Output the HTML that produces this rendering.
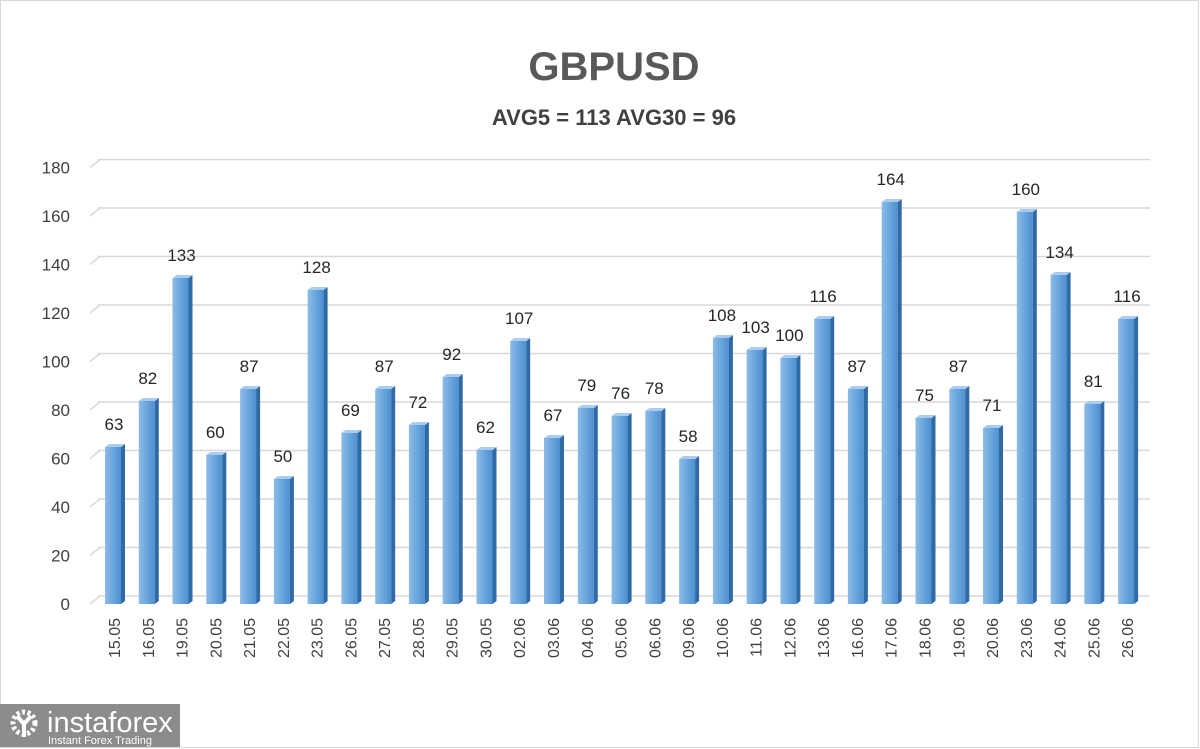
<!DOCTYPE html><html><head><style>body{margin:0;background:#fff}svg{display:block}
.b rect.f{fill:url(#g)}.b .s{fill:#2f6aa6}.b .t{fill:#a9cdf0}.b text{font-size:17px;fill:#262626;text-anchor:middle}
.d{font-size:16px;fill:#404040;text-anchor:end}.yl{font-size:17px;fill:#404040;text-anchor:end}
</style></head><body>
<svg width="1200" height="749" xmlns="http://www.w3.org/2000/svg" font-family="Liberation Sans, sans-serif">
<defs><linearGradient id="g" x1="0" x2="1"><stop offset="0" stop-color="#8cbbe6"/><stop offset="0.5" stop-color="#6aa6de"/><stop offset="1" stop-color="#4f8fcf"/></linearGradient></defs>
<rect x="0.5" y="0.5" width="1198" height="747" fill="#fff" stroke="#d8d8d8"/>
<text x="614" y="80" text-anchor="middle" font-size="40" font-weight="bold" fill="#595959">GBPUSD</text>
<text x="614" y="125" text-anchor="middle" font-size="22" font-weight="bold" fill="#404040">AVG5 = 113 AVG30 = 96</text>
<g stroke="#d9d9d9" stroke-width="1.5">
<path d="M98 596H1150M98 547.5H1150M98 499H1150M98 450.5H1150M98 402H1150M98 353.5H1150M98 305H1150M98 256.5H1150M98 208H1150M98 159.5H1150"/>
<path d="M90 604L100 596M90 555.5L100 547.5M90 507L100 499M90 458.5L100 450.5M90 410L100 402M90 361.5L100 353.5M90 313L100 305M90 264.5L100 256.5M90 216L100 208M90 167.5L100 159.5"/>
</g>
<g class="yl">
<text x="70" y="610">0</text><text x="70" y="561.5">20</text><text x="70" y="513">40</text><text x="70" y="464.5">60</text><text x="70" y="416">80</text><text x="70" y="367.5">100</text><text x="70" y="319">120</text><text x="70" y="270.5">140</text><text x="70" y="222">160</text><text x="70" y="173.5">180</text>
</g>
<g class="b">
<g transform="translate(105,447)"><rect class="f" width="16" height="157"/><polygon class="s" points="16,0 20,-3 20,154 16,157"/><polygon class="t" points="0,0 4,-3 20,-3 16,0"/><text x="9" y="-17">63</text></g>
<g transform="translate(138.8,401)"><rect class="f" width="16" height="203"/><polygon class="s" points="16,0 20,-3 20,200 16,203"/><polygon class="t" points="0,0 4,-3 20,-3 16,0"/><text x="9" y="-17">82</text></g>
<g transform="translate(172.5,278)"><rect class="f" width="16" height="326"/><polygon class="s" points="16,0 20,-3 20,323 16,326"/><polygon class="t" points="0,0 4,-3 20,-3 16,0"/><text x="9" y="-17">133</text></g>
<g transform="translate(206.3,455)"><rect class="f" width="16" height="149"/><polygon class="s" points="16,0 20,-3 20,146 16,149"/><polygon class="t" points="0,0 4,-3 20,-3 16,0"/><text x="9" y="-17">60</text></g>
<g transform="translate(240.1,389)"><rect class="f" width="16" height="215"/><polygon class="s" points="16,0 20,-3 20,212 16,215"/><polygon class="t" points="0,0 4,-3 20,-3 16,0"/><text x="9" y="-17">87</text></g>
<g transform="translate(273.9,479)"><rect class="f" width="16" height="125"/><polygon class="s" points="16,0 20,-3 20,122 16,125"/><polygon class="t" points="0,0 4,-3 20,-3 16,0"/><text x="9" y="-17">50</text></g>
<g transform="translate(307.6,290)"><rect class="f" width="16" height="314"/><polygon class="s" points="16,0 20,-3 20,311 16,314"/><polygon class="t" points="0,0 4,-3 20,-3 16,0"/><text x="9" y="-17">128</text></g>
<g transform="translate(341.4,433)"><rect class="f" width="16" height="171"/><polygon class="s" points="16,0 20,-3 20,168 16,171"/><polygon class="t" points="0,0 4,-3 20,-3 16,0"/><text x="9" y="-17">69</text></g>
<g transform="translate(375.2,389)"><rect class="f" width="16" height="215"/><polygon class="s" points="16,0 20,-3 20,212 16,215"/><polygon class="t" points="0,0 4,-3 20,-3 16,0"/><text x="9" y="-17">87</text></g>
<g transform="translate(408.9,425)"><rect class="f" width="16" height="179"/><polygon class="s" points="16,0 20,-3 20,176 16,179"/><polygon class="t" points="0,0 4,-3 20,-3 16,0"/><text x="9" y="-17">72</text></g>
<g transform="translate(442.7,377)"><rect class="f" width="16" height="227"/><polygon class="s" points="16,0 20,-3 20,224 16,227"/><polygon class="t" points="0,0 4,-3 20,-3 16,0"/><text x="9" y="-17">92</text></g>
<g transform="translate(476.5,450)"><rect class="f" width="16" height="154"/><polygon class="s" points="16,0 20,-3 20,151 16,154"/><polygon class="t" points="0,0 4,-3 20,-3 16,0"/><text x="9" y="-17">62</text></g>
<g transform="translate(510.2,341)"><rect class="f" width="16" height="263"/><polygon class="s" points="16,0 20,-3 20,260 16,263"/><polygon class="t" points="0,0 4,-3 20,-3 16,0"/><text x="9" y="-17">107</text></g>
<g transform="translate(544,438)"><rect class="f" width="16" height="166"/><polygon class="s" points="16,0 20,-3 20,163 16,166"/><polygon class="t" points="0,0 4,-3 20,-3 16,0"/><text x="9" y="-17">67</text></g>
<g transform="translate(577.8,408)"><rect class="f" width="16" height="196"/><polygon class="s" points="16,0 20,-3 20,193 16,196"/><polygon class="t" points="0,0 4,-3 20,-3 16,0"/><text x="9" y="-17">79</text></g>
<g transform="translate(611.6,416)"><rect class="f" width="16" height="188"/><polygon class="s" points="16,0 20,-3 20,185 16,188"/><polygon class="t" points="0,0 4,-3 20,-3 16,0"/><text x="9" y="-17">76</text></g>
<g transform="translate(645.3,411)"><rect class="f" width="16" height="193"/><polygon class="s" points="16,0 20,-3 20,190 16,193"/><polygon class="t" points="0,0 4,-3 20,-3 16,0"/><text x="9" y="-17">78</text></g>
<g transform="translate(679.1,459)"><rect class="f" width="16" height="145"/><polygon class="s" points="16,0 20,-3 20,142 16,145"/><polygon class="t" points="0,0 4,-3 20,-3 16,0"/><text x="9" y="-17">58</text></g>
<g transform="translate(712.9,338)"><rect class="f" width="16" height="266"/><polygon class="s" points="16,0 20,-3 20,263 16,266"/><polygon class="t" points="0,0 4,-3 20,-3 16,0"/><text x="9" y="-17">108</text></g>
<g transform="translate(746.6,350)"><rect class="f" width="16" height="254"/><polygon class="s" points="16,0 20,-3 20,251 16,254"/><polygon class="t" points="0,0 4,-3 20,-3 16,0"/><text x="9" y="-17">103</text></g>
<g transform="translate(780.4,358)"><rect class="f" width="16" height="246"/><polygon class="s" points="16,0 20,-3 20,243 16,246"/><polygon class="t" points="0,0 4,-3 20,-3 16,0"/><text x="9" y="-17">100</text></g>
<g transform="translate(814.2,319)"><rect class="f" width="16" height="285"/><polygon class="s" points="16,0 20,-3 20,282 16,285"/><polygon class="t" points="0,0 4,-3 20,-3 16,0"/><text x="9" y="-17">116</text></g>
<g transform="translate(847.9,389)"><rect class="f" width="16" height="215"/><polygon class="s" points="16,0 20,-3 20,212 16,215"/><polygon class="t" points="0,0 4,-3 20,-3 16,0"/><text x="9" y="-17">87</text></g>
<g transform="translate(881.7,202)"><rect class="f" width="16" height="402"/><polygon class="s" points="16,0 20,-3 20,399 16,402"/><polygon class="t" points="0,0 4,-3 20,-3 16,0"/><text x="9" y="-17">164</text></g>
<g transform="translate(915.5,418)"><rect class="f" width="16" height="186"/><polygon class="s" points="16,0 20,-3 20,183 16,186"/><polygon class="t" points="0,0 4,-3 20,-3 16,0"/><text x="9" y="-17">75</text></g>
<g transform="translate(949.3,389)"><rect class="f" width="16" height="215"/><polygon class="s" points="16,0 20,-3 20,212 16,215"/><polygon class="t" points="0,0 4,-3 20,-3 16,0"/><text x="9" y="-17">87</text></g>
<g transform="translate(983,428)"><rect class="f" width="16" height="176"/><polygon class="s" points="16,0 20,-3 20,173 16,176"/><polygon class="t" points="0,0 4,-3 20,-3 16,0"/><text x="9" y="-17">71</text></g>
<g transform="translate(1016.8,212)"><rect class="f" width="16" height="392"/><polygon class="s" points="16,0 20,-3 20,389 16,392"/><polygon class="t" points="0,0 4,-3 20,-3 16,0"/><text x="9" y="-17">160</text></g>
<g transform="translate(1050.6,275)"><rect class="f" width="16" height="329"/><polygon class="s" points="16,0 20,-3 20,326 16,329"/><polygon class="t" points="0,0 4,-3 20,-3 16,0"/><text x="9" y="-17">134</text></g>
<g transform="translate(1084.3,404)"><rect class="f" width="16" height="200"/><polygon class="s" points="16,0 20,-3 20,197 16,200"/><polygon class="t" points="0,0 4,-3 20,-3 16,0"/><text x="9" y="-17">81</text></g>
<g transform="translate(1118.1,319)"><rect class="f" width="16" height="285"/><polygon class="s" points="16,0 20,-3 20,282 16,285"/><polygon class="t" points="0,0 4,-3 20,-3 16,0"/><text x="9" y="-17">116</text></g>
</g>
<g class="d">
<text transform="translate(120,618) rotate(-90)">15.05</text>
<text transform="translate(153.8,618) rotate(-90)">16.05</text>
<text transform="translate(187.5,618) rotate(-90)">19.05</text>
<text transform="translate(221.3,618) rotate(-90)">20.05</text>
<text transform="translate(255.1,618) rotate(-90)">21.05</text>
<text transform="translate(288.9,618) rotate(-90)">22.05</text>
<text transform="translate(322.6,618) rotate(-90)">23.05</text>
<text transform="translate(356.4,618) rotate(-90)">26.05</text>
<text transform="translate(390.2,618) rotate(-90)">27.05</text>
<text transform="translate(423.9,618) rotate(-90)">28.05</text>
<text transform="translate(457.7,618) rotate(-90)">29.05</text>
<text transform="translate(491.5,618) rotate(-90)">30.05</text>
<text transform="translate(525.2,618) rotate(-90)">02.06</text>
<text transform="translate(559,618) rotate(-90)">03.06</text>
<text transform="translate(592.8,618) rotate(-90)">04.06</text>
<text transform="translate(626.6,618) rotate(-90)">05.06</text>
<text transform="translate(660.3,618) rotate(-90)">06.06</text>
<text transform="translate(694.1,618) rotate(-90)">09.06</text>
<text transform="translate(727.9,618) rotate(-90)">10.06</text>
<text transform="translate(761.6,618) rotate(-90)">11.06</text>
<text transform="translate(795.4,618) rotate(-90)">12.06</text>
<text transform="translate(829.2,618) rotate(-90)">13.06</text>
<text transform="translate(862.9,618) rotate(-90)">16.06</text>
<text transform="translate(896.7,618) rotate(-90)">17.06</text>
<text transform="translate(930.5,618) rotate(-90)">18.06</text>
<text transform="translate(964.3,618) rotate(-90)">19.06</text>
<text transform="translate(998,618) rotate(-90)">20.06</text>
<text transform="translate(1031.8,618) rotate(-90)">23.06</text>
<text transform="translate(1065.6,618) rotate(-90)">24.06</text>
<text transform="translate(1099.3,618) rotate(-90)">25.06</text>
<text transform="translate(1133.1,618) rotate(-90)">26.06</text>
</g>
<rect x="0" y="704" width="180" height="43" fill="#8c8c8c"/>
<circle cx="24" cy="723" r="11" fill="none" stroke="#fff" stroke-width="5" stroke-dasharray="3 2.5"/>
<path d="M17 716 L24 724 L31 716 M24 724 L24 737" stroke="#fff" stroke-width="4" fill="none"/>
<text x="47" y="732" font-size="29" fill="#fff">instaforex</text>
<text x="48" y="744" font-size="11" fill="#fff">Instant Forex Trading</text>
</svg></body></html>
